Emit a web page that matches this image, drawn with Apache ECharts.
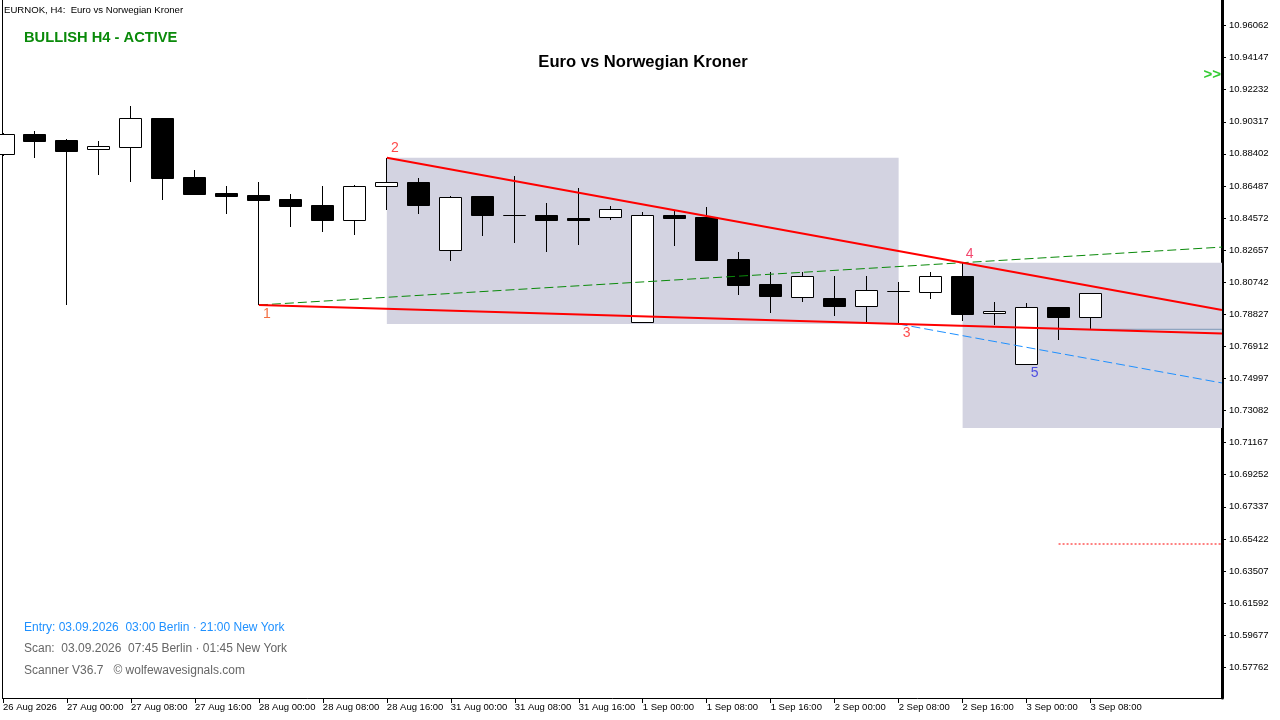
<!DOCTYPE html>
<html><head><meta charset="utf-8">
<script src="https://cdn.jsdelivr.net/npm/echarts@6/dist/echarts.min.js"></script>
<style>html,body{margin:0;padding:0;background:#fff;}#c{width:1280px;height:720px;}</style>
</head><body><div id="c"></div>
<script>
// ---- data ----
const candleTimes = ['26 Aug 16:00','26 Aug 20:00','27 Aug 00:00','27 Aug 04:00','27 Aug 08:00','27 Aug 12:00','27 Aug 16:00','27 Aug 20:00',
  '28 Aug 00:00','28 Aug 04:00','28 Aug 08:00','28 Aug 12:00','28 Aug 16:00','28 Aug 20:00',
  '31 Aug 00:00','31 Aug 04:00','31 Aug 08:00','31 Aug 12:00','31 Aug 16:00','31 Aug 20:00',
  '1 Sep 00:00','1 Sep 04:00','1 Sep 08:00','1 Sep 12:00','1 Sep 16:00','1 Sep 20:00',
  '2 Sep 00:00','2 Sep 04:00','2 Sep 08:00','2 Sep 12:00','2 Sep 16:00','2 Sep 20:00',
  '3 Sep 00:00','3 Sep 04:00','3 Sep 08:00'];
const opens  = [10.88374,10.89586,10.89228,10.88673,10.88828,10.90541,10.87019,10.86083,10.85945,10.85707,10.85349,10.84471,10.86465,10.86704,
  10.82645,10.85868,10.84734,10.84751,10.84573,10.84614,10.78348,10.84734,10.84614,10.82126,10.80634,10.79876,
  10.79780,10.79339,10.80216,10.80174,10.81112,10.78885,10.75841,10.79261,10.78682];
const highs  = [10.89646,10.89765,10.89288,10.89168,10.91258,10.90551,10.87437,10.86483,10.86704,10.86005,10.86501,10.86543,10.88171,10.86960,
  10.85886,10.85868,10.87079,10.85468,10.86363,10.85271,10.84931,10.84991,10.85229,10.82544,10.81332,10.81332,
  10.81112,10.81112,10.80753,10.81350,10.81906,10.79560,10.79500,10.79261,10.80097];
const lows   = [10.88277,10.88171,10.79381,10.87139,10.86721,10.85647,10.85945,10.84811,10.79381,10.84035,10.83755,10.83576,10.85050,10.84829,
  10.82024,10.83516,10.83098,10.82561,10.82979,10.84471,10.78348,10.82920,10.82096,10.79977,10.78921,10.79577,
  10.78724,10.78384,10.78246,10.79757,10.78426,10.78186,10.75841,10.77310,10.77930];
const closes = [10.89568,10.89186,10.88589,10.88870,10.90523,10.86977,10.86005,10.85903,10.85665,10.85307,10.84453,10.86483,10.86704,10.85367,
  10.85808,10.84769,10.84734,10.84471,10.84471,10.85092,10.84734,10.84591,10.82096,10.80592,10.79935,10.81112,
  10.79339,10.80258,10.80216,10.81093,10.78862,10.79022,10.79243,10.78682,10.80097];
const tickLabels = ['26 Aug 2026','27 Aug 00:00','27 Aug 08:00','27 Aug 16:00','28 Aug 00:00','28 Aug 08:00','28 Aug 16:00',
  '31 Aug 00:00','31 Aug 08:00','31 Aug 16:00','1 Sep 00:00','1 Sep 08:00','1 Sep 16:00','2 Sep 00:00','2 Sep 08:00',
  '2 Sep 16:00','3 Sep 00:00','3 Sep 08:00'];
const priceTicks = [10.57762,10.59677,10.61592,10.63507,10.65422,10.67337,10.69252,10.71167,10.73082,10.74997,10.76912,
  10.78827,10.80742,10.82657,10.84572,10.86487,10.88402,10.90317,10.92232,10.94147,10.96062];
const wolfeLabels = ['1','2','3','4','5'];
const wolfeIdx    = [8,12,28,30,32];
const wolfePrice  = [10.79381,10.88171,10.78246,10.81906,10.75841];
const zone2Bottom = 10.72039;
const targetLevel = 10.65116;
const bidLevel    = 10.77930;
const markerStart = 33;

// ---- axis extents (layout) ----
const X_MIN = -0.015625, X_MAX = 38.109375;
const Y_MIN = 10.55925, Y_MAX = 10.97584;

const FONT = '"Liberation Sans", Arial, sans-serif';
const candleData = candleTimes.map((t,i)=>[i, opens[i], closes[i], lows[i], highs[i]]);
const tickIdx = tickLabels.map((_,i)=>i*2);

function lineAt(i1,p1,i2,p2,x){ return p1 + (p2-p1)*(x-i1)/(i2-i1); }
const P = wolfeIdx.map((x,i)=>[x, wolfePrice[i]]);
const line13 = [P[0], [X_MAX, lineAt(P[0][0],P[0][1],P[2][0],P[2][1],X_MAX)]];
const line24 = [P[1], [X_MAX, lineAt(P[1][0],P[1][1],P[3][0],P[3][1],X_MAX)]];
const line14 = [P[0], [X_MAX, lineAt(P[0][0],P[0][1],P[3][0],P[3][1],X_MAX)]];
const slope24 = (P[3][1]-P[1][1])/(P[3][0]-P[1][0]);
const line3p = [P[2], [X_MAX, P[2][1] + slope24*(X_MAX-P[2][0])]];
const zones = [[P[1][0], P[1][1], P[2][0], P[2][1]], [P[3][0], P[3][1], X_MAX, zone2Bottom]];

const labelColors = ['#f04a10','#ff1a1a','#ff2020','#f01848','#2a2ae0'];
const labelOffsets = [[8,9],[8,-10],[8,9],[7,-9],[8,9]];

const chart = echarts.init(document.getElementById('c'), null, {renderer:'canvas'});
function simpleLine(data, color, width, type, z){
  return {type:'line', data:data, symbol:'none', silent:true, animation:false, z:z||4,
    lineStyle:{color:color, width:width, type:type||'solid'}};
}
chart.setOption({
  animation:false,
  backgroundColor:'#ffffff',
  grid:{left:2, top:0, width:1220, height:698, containLabel:false},
  xAxis:{type:'value', min:X_MIN, max:X_MAX,
    axisLine:{show:true, onZero:false, lineStyle:{color:'#000', width:1}},
    axisTick:{show:true, length:5, customValues:tickIdx, lineStyle:{color:'#000'}},
    axisLabel:{show:true, customValues:tickIdx, align:'left', margin:4, color:'#000', fontSize:9.5, fontFamily:FONT,
      formatter:function(v){ const k=Math.round(v/2); return tickLabels[k]||''; }},
    splitLine:{show:false}},
  yAxis:[{type:'value', position:'right', min:Y_MIN, max:Y_MAX,
    axisLine:{show:true, onZero:false, lineStyle:{color:'#000', width:3}},
    axisTick:{show:true, length:4, customValues:priceTicks, lineStyle:{color:'#000'}},
    axisLabel:{show:true, customValues:priceTicks, margin:7, color:'#000', fontSize:9.5, fontFamily:FONT,
      formatter:function(v){ return v.toFixed(5); }},
    splitLine:{show:false}},
   {type:'value', position:'left', min:Y_MIN, max:Y_MAX,
    axisLine:{show:true, onZero:false, lineStyle:{color:'#000', width:1}},
    axisTick:{show:false}, axisLabel:{show:false}, splitLine:{show:false}}],
  series:[
    {type:'custom', z:1, silent:true, data:zones, encode:{x:[0,2], y:[1,3]},
      renderItem:function(params, api){
        const a = api.coord([api.value(0), api.value(1)]);
        const b = api.coord([api.value(2), api.value(3)]);
        return {type:'rect', shape:{x:Math.min(a[0],b[0]), y:Math.min(a[1],b[1]), width:Math.abs(b[0]-a[0]), height:Math.abs(b[1]-a[1])},
          style:{fill:'#d3d3e1'}};
      }},
    {type:'custom', z:2, silent:true, data:candleData, encode:{x:0, y:[1,2,3,4]},
      renderItem:function(params, api){
        const x=api.value(0), o=api.value(1), c=api.value(2), l=api.value(3), h=api.value(4);
        const po=api.coord([x,o]), pc=api.coord([x,c]), pl=api.coord([x,l]), ph=api.coord([x,h]);
        const w = Math.round(api.size([1,0])[0]*0.69);
        const cx = Math.floor(po[0]) + 0.5;
        const top = Math.round(Math.min(po[1],pc[1]))+0.5, bot = Math.round(Math.max(po[1],pc[1]))+0.5;
        const bull = c >= o;
        return {type:'group', children:[
          {type:'line', shape:{x1:cx, y1:Math.round(ph[1]), x2:cx, y2:Math.round(pl[1])}, style:{stroke:'#000', lineWidth:1}},
          {type:'rect', shape:{x:cx - w/2, y:top, width:w, height:Math.max(0, bot-top)},
            style:{fill: bull ? '#ffffff' : '#000000', stroke:'#000', lineWidth:1}}
        ]};
      }},
    simpleLine([[markerStart, bidLevel],[X_MAX, bidLevel]], '#7f9ab8', 1, 'solid', 3),
    simpleLine([[markerStart, targetLevel],[X_MAX, targetLevel]], '#ff0000', 1, [2,2], 3),
    simpleLine(line14, '#0a8a0a', 1, [9,4], 4),
    simpleLine(line3p, '#1e90ff', 1, [9,4], 4),
    simpleLine(line13, '#ff0000', 2, 'solid', 5),
    simpleLine(line24, '#ff0000', 2, 'solid', 5),
    {type:'scatter', z:6, silent:true, symbolSize:0,
      data: P.map((p,i)=>({value:p, label:{show:true, formatter:wolfeLabels[i], position:'inside', offset:labelOffsets[i],
        color:labelColors[i], fontSize:14, fontFamily:FONT}}))}
  ],
  graphic:[
    {type:'text', x:4, y:10, silent:true, style:{text:'EURNOK, H4:  Euro vs Norwegian Kroner', font:'9.6px '+FONT, fill:'#000', align:'left', verticalAlign:'middle'}},
    {type:'text', x:24, y:38, silent:true, style:{text:'BULLISH H4 - ACTIVE', font:'bold 14.7px '+FONT, fill:'#0a8a0a', align:'left', verticalAlign:'middle'}},
    {type:'text', x:643, y:62, silent:true, style:{text:'Euro vs Norwegian Kroner', font:'bold 16.6px '+FONT, fill:'#000', align:'center', verticalAlign:'middle'}},
    {type:'text', x:1221, y:75, silent:true, style:{text:'>>', font:'bold 15px '+FONT, fill:'#33cc33', align:'right', verticalAlign:'middle'}},
    {type:'text', x:24, y:628, silent:true, style:{text:'Entry: 03.09.2026  03:00 Berlin · 21:00 New York', font:'12px '+FONT, fill:'#1e90ff', align:'left', verticalAlign:'middle'}},
    {type:'text', x:24, y:649, silent:true, style:{text:'Scan:  03.09.2026  07:45 Berlin · 01:45 New York', font:'12px '+FONT, fill:'#666666', align:'left', verticalAlign:'middle'}},
    {type:'text', x:24, y:671, silent:true, style:{text:'Scanner V36.7   © wolfewavesignals.com', font:'12px '+FONT, fill:'#666666', align:'left', verticalAlign:'middle'}}
  ]
});
</script></body></html>
